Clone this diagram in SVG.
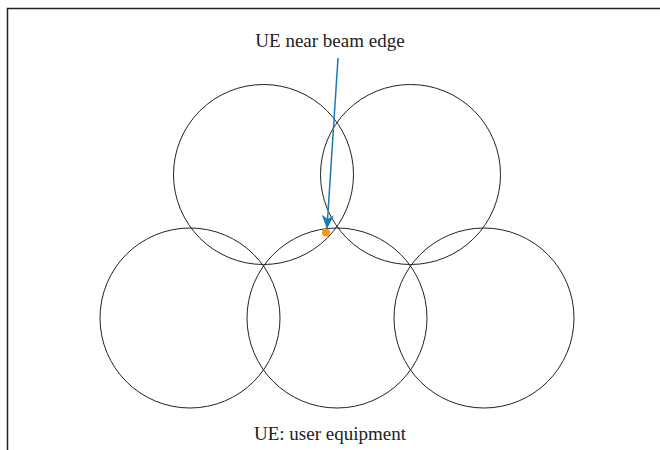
<svg xmlns="http://www.w3.org/2000/svg" width="660" height="450" viewBox="0 0 660 450">
<style>
.beam{fill:none;stroke:#222;stroke-width:1}
.lbl{font-family:"Liberation Serif","DejaVu Serif",serif;font-size:19px;fill:#222;text-anchor:middle}
</style>
<defs>
<marker id="ah" markerWidth="14" markerHeight="12" refX="13" refY="6" orient="auto" markerUnits="userSpaceOnUse">
<path d="M0,0 L14,6 L0,12 L4,6 Z" fill="#1a7ab8"/>
</marker>
</defs>
<rect width="660" height="450" fill="#fff"/>
<path d="M7.5,450 V8.5 H660" fill="none" stroke="#222" stroke-width="1.5"/>
<g id="beam1"><circle class="beam" cx="263.5" cy="174.5" r="90"/></g>
<g id="beam2"><circle class="beam" cx="410.5" cy="174.5" r="90"/></g>
<g id="beam3"><circle class="beam" cx="190" cy="318" r="90"/></g>
<g id="beam4"><circle class="beam" cx="337" cy="318" r="90"/></g>
<g id="beam5"><circle class="beam" cx="484" cy="318" r="90"/></g>
<g id="ue"><circle cx="326" cy="232.5" r="4" fill="#f39a12"/></g>
<g id="label-top"><text class="lbl" x="330" y="47">UE near beam edge</text></g>
<g id="label-bottom"><text class="lbl" x="330" y="440">UE: user equipment</text></g>
<g id="connectors">
<line x1="338" y1="58" x2="327" y2="228" stroke="#1a7ab8" stroke-width="1.5" marker-end="url(#ah)"/>
</g>
</svg>
